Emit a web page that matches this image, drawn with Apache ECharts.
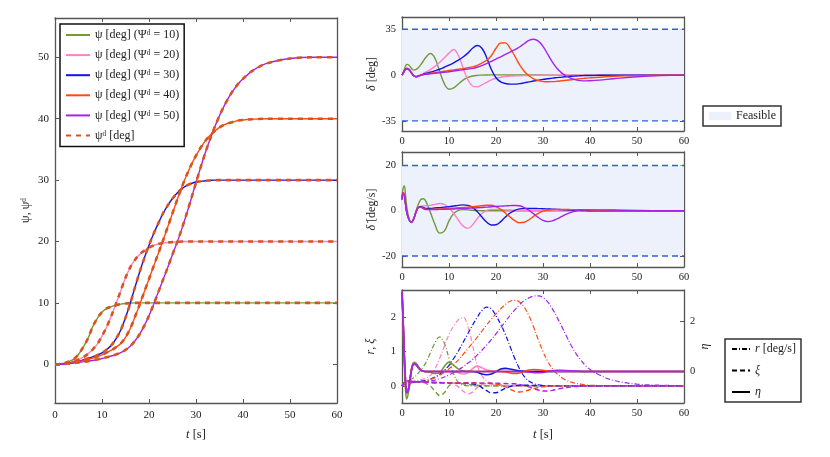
<!DOCTYPE html>
<html><head><meta charset="utf-8">
<script src="https://cdn.jsdelivr.net/npm/echarts@6/dist/echarts.min.js"></script>
<style>html,body{margin:0;padding:0;background:#fff}#c{width:830px;height:457px}</style>
</head><body><div id="c"></div>
<script>
// ---------- time grids ----------
const tPsi = [0,1,2,3,4,5,6,7,8,9,10,11,12,13,14,15,16,17,18,19,20,21,22,23,24,25,26,27,28,29,30,31,32,33,34,35,36,37,38,39,40,42,45,50,55,60];
const tFast = [0,0.25,0.5,0.75,1,1.5,2,2.5,3,3.5,4,4.5,5,
  6,7,8,9,10,11,12,13,14,15,
  16,17,18,19,20,21,22,23,24,25,
  26,27,28,29,30,31,32,33,34,35,
  36,37,38,39,40,
  42,45,50,55,60];
const caseValues = [10,20,30,40,50];

// ---------- heading psi [deg] (reference coincides with response) ----------
const psi10 = [0,0.05,0.2,0.45,0.85,1.6,2.8,4.2,6.1,7.5, 8.5,9.1,9.4,9.65,9.8,9.9,9.97,10,10,10, 10,10,10,10,10,10,10,10,10,10, 10,10,10,10,10,10,10,10,10,10, 10,10,10,10,10,10];
const psi20 = [0,0.05,0.15,0.3,0.5,0.8,1.15,1.7,2.4,3.3, 4.6,6.1,7.9,9.9,12,14.1,15.8,17,17.9,18.5, 19,19.35,19.6,19.75,19.85,19.9,19.95,20,20,20, 20,20,20,20,20,20,20,20,20,20, 20,20,20,20,20,20];
const psi30 = [0,0.03,0.1,0.2,0.35,0.5,0.7,0.95,1.2,1.5, 1.85,2.4,3.1,4.2,5.6,7.6,9.9,12.5,15,17.3, 19.4,21.3,23,24.6,25.9,27,27.9,28.6,29.1,29.45, 29.7,29.8,29.9,29.95,30,30,30,30,30,30, 30,30,30,30,30,30];
const psi40 = [0,0.02,0.08,0.17,0.3,0.45,0.6,0.8,1,1.25, 1.55,1.9,2.3,2.8,3.4,4.4,5.8,7.7,9.7,11.8, 13.9,16,18.1,20.2,22.4,24.6,26.8,28.9,30.8,32.5, 34,35.3,36.4,37.3,38,38.6,39,39.3,39.5,39.7, 39.8,39.9,40,40,40,40];
const psi50 = [0,0.02,0.06,0.12,0.2,0.3,0.4,0.5,0.62,0.78, 0.95,1.15,1.35,1.6,1.9,2.35,2.95,3.8,4.9,6.3, 7.9,9.8,11.8,13.8,15.8,17.9,19.9,22.1,24.5,27, 29.6,32.1,34.5,36.7,38.7,40.5,42.1,43.5,44.7,45.7, 46.5,47.8,49,49.8,50,50];
const psiRef10 = psi10, psiRef20 = psi20, psiRef30 = psi30, psiRef40 = psi40, psiRef50 = psi50;

// ---------- rudder angle delta [deg] ----------
const delta10 = [0,2,4.5,7,8.2,7.5,5.2,3.8,4.3,5.8,8,10.5,13.2, 16.5,13,3,-6.5,-10.8,-9.8,-6.8,-3.8,-1.8,-0.7, -0.2,0,0.1,0.15,0.15,0.15,0.15,0.1,0.1,0.1, 0.1,0.1,0.05,0.05,0.05,0,0,0,0,0, 0,0,0,0,0, 0,0,0,0,0];
const delta20 = [0,1.5,3.2,4.5,5,4.2,1.8,-0.5,-1.2,-0.8,0.3,1.2,2.2, 4.2,6.7,9.7,13.2,16.8,19.6,15,5.5,-3.5,-8.3, -9,-7.5,-5.5,-3.7,-2.4,-1.6,-1.1,-0.8,-0.6,-0.45, -0.35,-0.25,-0.2,-0.15,-0.1,-0.1,-0.05,-0.05,0,0, 0,0,0,0,0, 0,0,0,0,0];
const delta30 = [0,1.5,3.2,4.5,5,4.2,1.8,-0.5,-1.2,-0.8,0,0.6,1.2, 2.2,3.3,4.5,6,7.6,9.4,11.4,13.8,16.8,20.5, 22.6,20.5,13.5,4.5,-2,-5.2,-6.4,-6.9,-6.9,-6.5, -5.9,-5.2,-4.5,-3.9,-3.3,-2.8,-2.3,-1.9,-1.5,-1.2, -0.9,-0.7,-0.5,-0.35,-0.25, -0.1,0,0,0,0];
const delta40 = [0,1.5,3.2,4.5,5,4.2,1.8,-0.5,-1.2,-0.8,0,0.4,0.8, 1.4,1.9,2.5,3,3.5,4,4.5,5,5.6,6.3, 7.5,9.2,11.3,14.8,20.5,24.5,24.6,20.5,14.5,8, 3,-0.5,-2.8,-4.2,-4.9,-5.1,-5,-4.7,-4.3,-3.9, -3.5,-3.1,-2.7,-2.4,-2.1, -1.6,-1,-0.4,-0.1,0];
const delta50 = [0,1.5,3.2,4.5,5,4.2,1.8,-0.5,-1.2,-0.8,0,0.3,0.6, 1,1.4,1.8,2.2,2.6,3.1,3.6,4.1,4.6,5.1, 6,7.3,8.8,10.5,12.3,14,15.8,17.5,19.4,21.5, 24,26.5,27.4,26,22,16,10,5,1.5,-0.8, -2.5,-3.6,-4.2,-4.4,-4.3, -3.8,-2.8,-1.3,-0.4,0];

// ---------- rudder rate [deg/s] ----------
const deltaDot10 = [6,10,11,7,2,-3.5,-5.2,-3.5,0,3,5,5.3,4.5, -0.5,-6,-9.9,-9,-4.5,-1.2,0.2,0.5,0.4,0.2, 0.1,0,0,0,0,0,0,0,0,0, 0,0,0,0,0,0,0,0,0,0, 0,0,0,0,0, 0,0,0,0,0];
const deltaDot20 = [5,8,7,3,-0.5,-4,-5,-3.5,-0.5,1.5,2,2.1,2.2, 2.4,2.8,3.2,2.8,1.3,-1.2,-4.2,-6.8,-7.8,-6.3, -3.5,-1.2,0.2,0.6,0.6,0.5,0.4,0.3,0.2,0.1, 0.05,0,0,0,0,0,0,0,0,0, 0,0,0,0,0, 0,0,0,0,0];
const deltaDot30 = [5,8,7,3,-0.5,-4,-5,-3.5,-0.5,1.5,1.8,1.5,1, 1,1.2,1.4,1.6,1.8,2.1,2.4,2.6,2.4,1.5, -0.3,-2.8,-5,-6.3,-6.2,-4.8,-2.8,-1,0.2,0.8, 1,1,1,0.95,0.9,0.8,0.7,0.6,0.5,0.4, 0.3,0.2,0.1,0.05,0, 0,0,0,0,0];
const deltaDot40 = [5,8,7,3,-0.5,-4,-5,-3.5,-0.5,1.5,1.6,1.1,0.7, 0.6,0.7,0.8,0.9,1,1.15,1.3,1.45,1.6,1.8, 2,2.2,2.4,2.4,1.8,0.6,-1,-2.8,-4.4,-5.3, -5.1,-4,-2.5,-1.2,-0.2,0.3,0.5,0.6,0.6,0.55, 0.5,0.45,0.4,0.35,0.3, 0.2,0.1,0,0,0];
const deltaDot50 = [5,7.5,6.5,3,-0.5,-4,-5.2,-3.5,-0.5,1.5,1.5,1,0.5, 0.5,0.55,0.6,0.65,0.7,0.8,0.9,1,1.1,1.2, 1.3,1.45,1.6,1.75,1.9,2.05,2.15,2.25,2.35,2.2, 1.4,0.2,-1.4,-3,-4.3,-4.8,-4.5,-3.6,-2.5,-1.5, -0.7,-0.1,0.3,0.4,0.4, 0.4,0.3,0.1,0,0];

// ---------- yaw rate r [deg/s] ----------
const r10 = [0,0.05,0.1,0.12,0.15,0.18,0.2,0.24,0.3,0.38,0.46,0.55,0.66, 0.95,1.25,1.43,1.25,0.8,0.35,0.1,0.02,0,0, 0,0,0,0,0,0,0,0,0,0, 0,0,0,0,0,0,0,0,0,0, 0,0,0,0,0, 0,0,0,0,0];
const r20 = [0,0.05,0.08,0.1,0.12,0.13,0.14,0.15,0.16,0.17,0.18,0.2,0.22, 0.3,0.5,0.8,1.15,1.5,1.75,1.93,2,1.75,1.2, 0.6,0.3,0.15,0.08,0.04,0.02,0,0,0,0, 0,0,0,0,0,0,0,0,0,0, 0,0,0,0,0, 0,0,0,0,0];
const r30 = [0,0.04,0.07,0.09,0.1,0.11,0.12,0.12,0.13,0.13,0.14,0.15,0.16, 0.2,0.26,0.34,0.45,0.6,0.8,1.02,1.27,1.52,1.77, 2,2.2,2.3,2.25,2.05,1.8,1.5,1.15,0.8,0.5, 0.28,0.14,0.07,0.03,0.01,0,0,0,0,0, 0,0,0,0,0, 0,0,0,0,0];
const r40 = [0,0.03,0.06,0.08,0.09,0.1,0.1,0.11,0.11,0.12,0.12,0.13,0.14, 0.18,0.24,0.31,0.4,0.5,0.62,0.76,0.92,1.08,1.25, 1.42,1.6,1.78,1.95,2.1,2.25,2.38,2.47,2.5,2.45, 2.3,2.05,1.72,1.35,1,0.72,0.5,0.35,0.24,0.16, 0.11,0.07,0.05,0.03,0.02, 0.01,0,0,0,0];
const r50 = [0,0.03,0.05,0.07,0.08,0.09,0.09,0.1,0.1,0.1,0.11,0.11,0.12, 0.14,0.17,0.21,0.26,0.32,0.39,0.47,0.56,0.66,0.77, 0.9,1.04,1.19,1.35,1.52,1.7,1.88,2.06,2.22,2.37, 2.49,2.57,2.62,2.63,2.58,2.45,2.25,2,1.73,1.45, 1.18,0.95,0.76,0.6,0.48, 0.32,0.16,0.05,0.02,0];

// ---------- xi ----------
const xi10 = [0,0.05,0.1,0.13,0.15,0.14,0.13,0.12,0.12,0.12,0.11,0.1,0.08, 0,-0.15,-0.28,-0.2,0,0.08,0.08,0.06,0.04,0.03, 0.02,0.01,0,0,0,0,0,0,0,0, 0,0,0,0,0,0,0,0,0,0, 0,0,0,0,0, 0,0,0,0,0];
const xi20 = [0,0.05,0.1,0.13,0.15,0.14,0.13,0.12,0.12,0.12,0.12,0.11,0.11, 0.11,0.1,0.1,0.09,0.08,0.05,-0.03,-0.15,-0.23,-0.18, -0.05,0.04,0.06,0.05,0.04,0.03,0.02,0.01,0.01,0, 0,0,0,0,0,0,0,0,0,0, 0,0,0,0,0, 0,0,0,0,0];
const xi30 = [0,0.05,0.1,0.13,0.15,0.14,0.13,0.12,0.12,0.12,0.12,0.11,0.11, 0.1,0.1,0.1,0.09,0.09,0.09,0.08,0.08,0.07,0.06, 0.03,-0.05,-0.14,-0.2,-0.2,-0.14,-0.07,-0.02,0.01,0.02, 0.02,0.02,0.01,0.01,0,0,0,0,0,0, 0,0,0,0,0, 0,0,0,0,0];
const xi40 = [0,0.05,0.1,0.13,0.15,0.14,0.13,0.12,0.12,0.12,0.12,0.11,0.11, 0.1,0.1,0.09,0.09,0.09,0.09,0.09,0.09,0.09,0.09, 0.09,0.08,0.08,0.07,0.05,0.02,-0.03,-0.1,-0.16,-0.18, -0.16,-0.12,-0.08,-0.05,-0.03,-0.01,0,0,0,0, 0,0,0,0,0, 0,0,0,0,0];
const xi50 = [0,0.05,0.1,0.13,0.15,0.14,0.13,0.12,0.12,0.12,0.12,0.11,0.11, 0.1,0.09,0.09,0.09,0.08,0.08,0.08,0.08,0.08,0.08, 0.08,0.08,0.08,0.08,0.08,0.07,0.07,0.06,0.06,0.04, 0.01,-0.03,-0.08,-0.12,-0.15,-0.15,-0.13,-0.1,-0.07,-0.05, -0.03,-0.02,-0.01,0,0, 0,0,0,0,0];

// ---------- eta ----------
const eta10 = [3.2,1.8,0.3,-0.7,-1.1,-0.7,0.05,0.37,0.33,0.2,0.08,0.02,0, -0.03,-0.08,-0.05,0.2,0.38,0.25,0.1,0.03,0.01,0, 0,0,0,0,0,0,0,0,0,0, 0,0,0,0,0,0,0,0,0,0, 0,0,0,0,0, 0,0,0,0,0];
const eta20 = [3.2,2,0.6,-0.4,-0.85,-0.6,0.05,0.3,0.28,0.15,0.06,0.02,0, 0,0,0,0,0,0,-0.05,-0.1,-0.05,0.12, 0.22,0.15,0.07,0.03,0.01,0,0,0,0,0, 0,0,0,0,0,0,0,0,0,0, 0,0,0,0,0, 0,0,0,0,0];
const eta30 = [3.2,2,0.6,-0.4,-0.85,-0.6,0.05,0.3,0.28,0.15,0.06,0.02,0, 0,0,0,0,0,0,0,0,0,0, -0.03,-0.1,-0.13,-0.1,0,0.1,0.13,0.1,0.06,0.03, 0.01,0,0,0,0,0,0,0,0,0, 0,0,0,0,0, 0,0,0,0,0];
const eta40 = [3.2,2,0.6,-0.4,-0.85,-0.6,0.05,0.3,0.28,0.15,0.06,0.02,0, 0,0,0,0,0,0,0,0,0,0, 0,0,0,0,0,0,-0.02,-0.06,-0.08,-0.06, 0,0.06,0.08,0.07,0.05,0.03,0.02,0.01,0,0, 0,0,0,0,0, 0,0,0,0,0];
const eta50 = [3.2,2,0.6,-0.4,-0.85,-0.6,0.05,0.3,0.28,0.15,0.06,0.02,0, 0,0,0,0,0,0,0,0,0,0, 0,0,0,0,0,0,0,0,0,0, 0,-0.02,-0.04,-0.05,-0.04,0,0.03,0.05,0.05,0.04, 0.03,0.02,0.01,0,0, 0,0,0,0,0];

// ---------- ticks / bounds ----------
const xTicks = [0,10,20,30,40,50,60];
const psiTicks = [0,10,20,30,40,50];
const deltaTicks = [-35,0,35];
const deltaDotTicks = [-20,0,20];
const rxiTicks = [0,1,2];
const etaTicks = [0,2];
const deltaBound = 35;
const deltaDotBound = 20;

// ---------- styling ----------
const colors = ['#72993a','#ff80c8','#1414e0','#ff4a12','#a424ee'];
const refColor = '#d9531e';
const boundColor = '#2a62d8';
const feasibleColor = '#edf1fb';
const FONT = '"Liberation Serif","DejaVu Serif",serif';
const AX = '#555';

const psiSets = [psi10,psi20,psi30,psi40,psi50];
const psiRefSets = [psiRef10,psiRef20,psiRef30,psiRef40,psiRef50];
const deltaSets = [delta10,delta20,delta30,delta40,delta50];
const deltaDotSets = [deltaDot10,deltaDot20,deltaDot30,deltaDot40,deltaDot50];
const rSets = [r10,r20,r30,r40,r50];
const xiSets = [xi10,xi20,xi30,xi40,xi50];
const etaSets = [eta10,eta20,eta30,eta40,eta50];

const pairs = (t, v) => t.map((x, i) => [x, v[i]]);

const grids = [
  {left:55, top:18, width:282, height:385},
  {left:402, top:17, width:282, height:114},
  {left:402, top:152, width:282, height:115},
  {left:402, top:290, width:282, height:113}
];

const lineCommon = {show:true, onZero:false, lineStyle:{color:AX, width:1.3}};
const tickCommon = (vals) => ({show:true, inside:true, length:4, customValues:vals, lineStyle:{color:AX, width:1}});

const xAxes = [], yAxes = [];
const tName = {name:'{i|t} [s]', nameLocation:'middle', nameGap:25,
  nameTextStyle:{fontFamily:FONT, fontSize:12.5, color:'#222', rich:{i:{fontStyle:'italic', fontFamily:FONT, fontSize:12.5, color:'#222'}}}};
for (let g = 0; g < 4; g++) {
  const base = {type:'value', gridIndex:g, min:0, max:60, splitLine:{show:false}, axisLine:lineCommon, axisTick:tickCommon(xTicks)};
  xAxes.push(Object.assign({}, base, {position:'bottom',
    axisLabel:{show:true, customValues:xTicks, fontFamily:FONT, fontSize:g===0?11:10.5, color:'#222', margin:g===0?7:5}},
    (g===0||g===3) ? tName : {}));
  xAxes.push(Object.assign({}, base, {position:'top', axisLabel:{show:false}}));
}
function yPair(g, min, max, ticks, name, gap, rightLabels, rightTicks, rightMin, rightMax, rightName) {
  const nts = {fontFamily:FONT, fontSize:12, color:'#222', rich:{i:{fontStyle:'italic', fontFamily:FONT, fontSize:12, color:'#222'}}};
  yAxes.push({type:'value', gridIndex:g, position:'left', min:min, max:max, splitLine:{show:false},
    axisLine:lineCommon, axisTick:tickCommon(ticks),
    axisLabel:{show:true, customValues:ticks, fontFamily:FONT, fontSize:g===0?11:10.5, color:'#222', margin:6},
    name:name, nameLocation:'middle', nameGap:gap, nameRotate:90, nameTextStyle:nts});
  yAxes.push({type:'value', gridIndex:g, position:'right', min:rightMin!==undefined?rightMin:min, max:rightMax!==undefined?rightMax:max,
    splitLine:{show:false}, axisLine:lineCommon, axisTick:tickCommon(rightTicks||ticks),
    axisLabel:{show:!!rightLabels, customValues:rightTicks||ticks, fontFamily:FONT, fontSize:10.5, color:'#222', margin:6},
    name:rightName||'', nameLocation:'middle', nameGap:12, nameRotate:90, nameTextStyle:nts});
}
yPair(0, -6.3, 56.4, psiTicks, 'ψ, ψᵈ', 23);
yPair(1, -42.7, 44.4, deltaTicks, '{i|δ} [deg]', 24);
yPair(2, -24.9, 26, deltaDotTicks, '{i|δ̇} [deg/s]', 24);
yPair(3, -0.5, 2.8, rxiTicks, '{i|r}, {i|ξ}', 25, true, etaTicks, -1.26, 3.27, '{i|η}');

const series = [];
// left panel
psiSets.forEach((arr, k) => {
  series.push({type:'line', name:`ψ [deg] (Ψᵈ = ${caseValues[k]})`, xAxisIndex:0, yAxisIndex:0,
    data:pairs(tPsi, arr), showSymbol:false, symbol:'none', smooth:0.3, color:colors[k],
    lineStyle:{width:1.4, color:colors[k]}, z:3});
});
psiRefSets.forEach((arr) => {
  series.push({type:'line', name:'ψᵈ [deg]', xAxisIndex:0, yAxisIndex:0,
    data:pairs(tPsi, arr), showSymbol:false, symbol:'none', smooth:0.3, color:refColor,
    lineStyle:{width:2.6, color:refColor, type:[5,5]}, z:4});
});
// feasible regions + bounds
[[1, deltaBound],[2, deltaDotBound]].forEach(([g, b]) => {
  series.push({type:'line', name:'Feasible', xAxisIndex:2*g, yAxisIndex:2*g, data:[], symbol:'none',
    color:feasibleColor, itemStyle:{color:feasibleColor}, lineStyle:{width:0},
    markArea:{silent:true, itemStyle:{color:feasibleColor}, data:[[{yAxis:-b},{yAxis:b}]]}, z:1});
  [b, -b].forEach(v => {
    series.push({type:'line', name:'bound', xAxisIndex:2*g, yAxisIndex:2*g, data:[[0,v],[60,v]],
      symbol:'none', lineStyle:{color:boundColor, width:1.4, type:[6,4]}, z:2, silent:true});
  });
});
deltaSets.forEach((arr, k) => series.push({type:'line', name:'δ'+k, xAxisIndex:2, yAxisIndex:2,
  data:pairs(tFast, arr), symbol:'none', smooth:0.4, lineStyle:{width:1.4, color:colors[k]}, z:3}));
deltaDotSets.forEach((arr, k) => series.push({type:'line', name:'δd'+k, xAxisIndex:4, yAxisIndex:4,
  data:pairs(tFast, arr), symbol:'none', smooth:0.4, lineStyle:{width:1.4, color:colors[k]}, z:3}));
// bottom panel
rSets.forEach((arr, k) => series.push({type:'line', name:'r'+k, xAxisIndex:6, yAxisIndex:6,
  data:pairs(tFast, arr), symbol:'none', smooth:0.4, lineStyle:{width:1.2, color:colors[k], type:[5,2,1,2]}, z:3}));
xiSets.forEach((arr, k) => series.push({type:'line', name:'xi'+k, xAxisIndex:6, yAxisIndex:6,
  data:pairs(tFast, arr), symbol:'none', smooth:0.4, lineStyle:{width:1.4, color:colors[k], type:[5,3]}, z:3}));
etaSets.forEach((arr, k) => series.push({type:'line', name:'eta'+k, xAxisIndex:6, yAxisIndex:7,
  data:pairs(tFast, arr), symbol:'none', smooth:0.4, lineStyle:{width:1.6, color:colors[k]}, z:3}));
// legend-only entries
[['r [deg/s]',[5,2,1,2]],['ξ',[5,3]],['η','solid']].forEach(([n, ty]) => series.push({type:'line', name:n,
  xAxisIndex:6, yAxisIndex:6, data:[], symbol:'none', color:'#000', lineStyle:{width:1.2, color:'#000', type:ty}}));

const legendText = {fontFamily:FONT, fontSize:12, color:'#222', rich:{i:{fontStyle:'italic', fontFamily:FONT, fontSize:12, color:'#222'}}};
const option = {
  animation:false,
  backgroundColor:'#fff',
  grid:grids,
  xAxis:xAxes,
  yAxis:yAxes,
  legend:[
    {orient:'vertical', left:60, top:24, data:[...caseValues.map(c => `ψ [deg] (Ψᵈ = ${c})`), 'ψᵈ [deg]'],
      backgroundColor:'#fff', borderColor:'#111', borderWidth:1.5, borderRadius:0, padding:[5,5,5,5],
      itemWidth:24, itemHeight:12, itemGap:8.1, textStyle:legendText, selectedMode:false, z:10,
      itemStyle:{opacity:0}},
    {orient:'vertical', left:703, top:106, data:['Feasible'], icon:'rect',
      backgroundColor:'#fff', borderColor:'#333', borderWidth:1.5, borderRadius:0, padding:[4,5,4,6],
      itemWidth:22, itemHeight:8, textStyle:legendText, selectedMode:false},
    {orient:'vertical', left:725, top:339, data:['r [deg/s]','ξ','η'],
      backgroundColor:'#fff', borderColor:'#333', borderWidth:1.5, borderRadius:0, padding:[4,5,4,6],
      itemWidth:18, itemHeight:10, itemGap:9.5, textStyle:legendText, selectedMode:false,
      itemStyle:{opacity:0},
      formatter: n => n === 'r [deg/s]' ? '{i|r} [deg/s]' : '{i|' + n + '}'}
  ],
  series:series
};
const chart = echarts.init(document.getElementById('c'), null, {renderer:'canvas'});
chart.setOption(option);
</script>
</body></html>
